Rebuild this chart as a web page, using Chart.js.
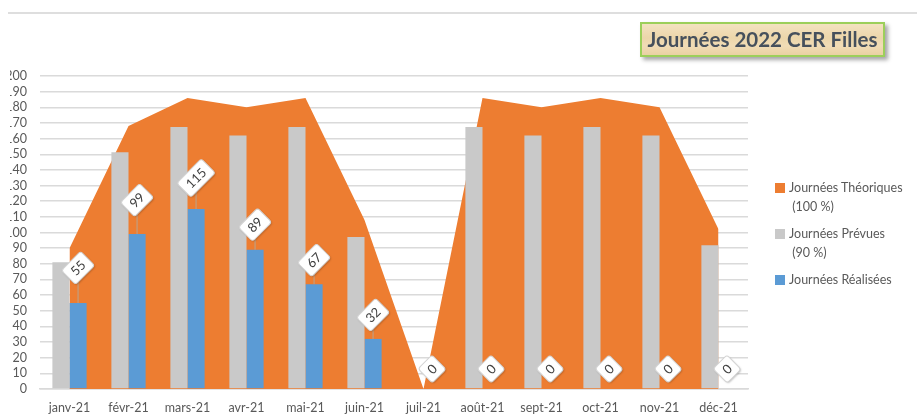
<!DOCTYPE html>
<html>
<head>
<meta charset="utf-8">
<script src="https://cdn.jsdelivr.net/npm/chart.js@4/dist/chart.umd.min.js"></script>
<style>
  html, body { margin:0; padding:0; background:#fff; }
  #wrap { position:relative; width:919px; height:420px; overflow:hidden; background:#fff; font-family:Lato, "Open Sans", sans-serif; }
  #topline { position:absolute; left:8px; top:12px; width:909px; height:2px; background:#dedede; }
  #cv { position:absolute; left:-8px; top:0; }
  #mask { position:absolute; left:0; top:60px; width:10px; height:190px; background:#fff; }
  #title { position:absolute; left:640px; top:22px; width:241px; height:31px; border:2px solid #9ccf5a;
           background:linear-gradient(180deg,#f3e2c0 0%,#ecd6aa 45%,#f1dcb6 70%,#e9d1a3 100%);
           box-shadow:3px 3px 4px rgba(0,0,0,0.35); color:#46505c; font-weight:bold; font-size:20.5px;
           line-height:31px; text-align:center; white-space:nowrap; }
  .lg { position:absolute; left:775px; font-size:12.5px; color:#595959; line-height:19px; }
  .sw { position:absolute; left:0; top:5px; width:10px; height:10px; }
  .lt { margin-left:14px; }
</style>
</head>
<body>
<div id="wrap">
  <div id="topline"></div>
  <canvas id="cv" width="927" height="420"></canvas>
  <div id="mask"></div>
  <div id="title">Journées 2022 CER Filles</div>
  <div class="lg" style="top:178px"><div class="sw" style="background:#ED7D31"></div><div class="lt">Journées Théoriques<br>&nbsp;(100 %)</div></div>
  <div class="lg" style="top:224px"><div class="sw" style="background:#C9C9C9"></div><div class="lt">Journées Prévues<br>&nbsp;(90 %)</div></div>
  <div class="lg" style="top:270px"><div class="sw" style="background:#5B9BD5"></div><div class="lt">Journées Réalisées</div></div>
</div>
<script>
const categories = ['janv-21','févr-21','mars-21','avr-21','mai-21','juin-21','juil-21','août-21','sept-21','oct-21','nov-21','déc-21'];
const theoriques = [90, 168, 186, 180, 186, 108, 0, 186, 180, 186, 180, 102];
const prevues    = [81, 151.2, 167.4, 162, 167.4, 97.2, 0, 167.4, 162, 167.4, 162, 91.8];
const realisees  = [55, 99, 115, 89, 67, 32, 0, 0, 0, 0, 0, 0];
const seriesNames = ['Journées Théoriques (100 %)', 'Journées Prévues (90 %)', 'Journées Réalisées'];

const labelLift = [35, 34, 31, 25, 24, 24, 20, 20, 20, 20, 20, 20];

const tagPlugin = {
  id: 'tags',
  afterDatasetsDraw(chart) {
    const ctx = chart.ctx;
    const meta = chart.getDatasetMeta(2);
    ctx.save();
    ctx.font = '13px Lato, "Open Sans", sans-serif';
    meta.data.forEach((el, i) => {
      const v = realisees[i];
      const x = el.x, y = el.y;
      const cy = y - labelLift[i];
      if (v > 0) {
        ctx.strokeStyle = '#b9a58f';
        ctx.lineWidth = 1;
        ctx.beginPath();
        ctx.moveTo(x, y);
        ctx.lineTo(x, cy + 10);
        ctx.stroke();
      }
      const txt = String(v);
      const tw = ctx.measureText(txt).width;
      const w = tw + 12, h = 20;
      ctx.save();
      ctx.translate(x, cy);
      ctx.rotate(-Math.PI / 4);
      ctx.shadowColor = 'rgba(0,0,0,0.25)';
      ctx.shadowBlur = 2;
      ctx.shadowOffsetX = 1;
      ctx.shadowOffsetY = 1;
      ctx.fillStyle = '#ffffff';
      ctx.beginPath();
      ctx.roundRect(-w / 2, -h / 2, w, h, 3);
      ctx.fill();
      ctx.shadowColor = 'transparent';
      ctx.strokeStyle = '#d4d4d4';
      ctx.lineWidth = 1;
      ctx.stroke();
      ctx.fillStyle = '#404040';
      ctx.textAlign = 'center';
      ctx.textBaseline = 'middle';
      ctx.fillText(txt, 0, 0.5);
      ctx.restore();
    });
    ctx.restore();
  }
};

new Chart(document.getElementById('cv'), {
  type: 'bar',
  data: {
    labels: categories,
    datasets: [
      { type: 'line', label: seriesNames[0], data: theoriques, fill: 'origin',
        backgroundColor: '#ED7D31', borderWidth: 0, pointRadius: 0, tension: 0, order: 2 },
      { label: seriesNames[1], data: prevues, backgroundColor: '#C9C9C9',
        barPercentage: 1, categoryPercentage: 0.58, order: 1 },
      { label: seriesNames[2], data: realisees, backgroundColor: '#5B9BD5',
        barPercentage: 1, categoryPercentage: 0.58, order: 1 }
    ]
  },
  options: {
    responsive: false,
    devicePixelRatio: 1,
    animation: false,
    layout: { padding: { left: 0, right: 171, top: 76, bottom: 0 } },
    plugins: { legend: { display: false }, tooltip: { enabled: false } },
    scales: {
      x: {
        offset: true,
        grid: { display: false, drawTicks: false },
        border: { display: true, color: '#d9d9d9', width: 1.5 },
        ticks: { color: '#595959', font: { family: 'Lato', size: 12.5 }, padding: 11, maxRotation: 0, autoSkip: false },
        afterFit(s) { s.height = 31; }
      },
      y: {
        min: 0, max: 200,
        grid: { color: '#dadada', lineWidth: 1.5, drawTicks: false },
        border: { display: false },
        ticks: { stepSize: 10, autoSkip: false, color: '#595959', font: { family: 'Lato', size: 12.5 }, padding: 13 },
        afterFit(s) { s.width = 48; }
      }
    }
  },
  plugins: [tagPlugin]
});
</script>
</body>
</html>
